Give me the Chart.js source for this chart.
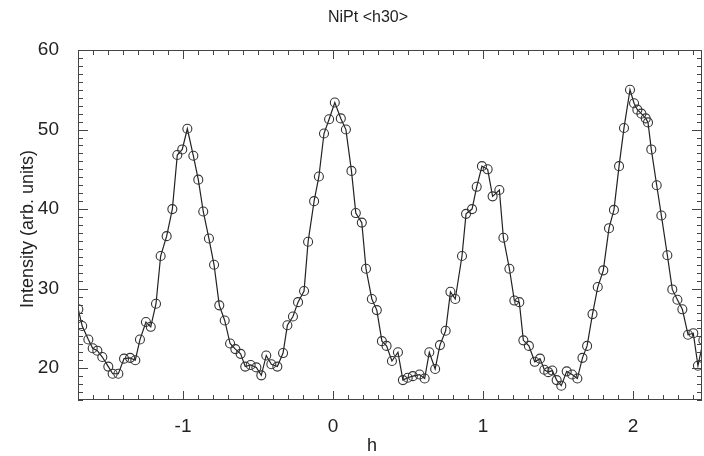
<!DOCTYPE html>
<html>
<head>
<meta charset="utf-8">
<script src="https://cdn.jsdelivr.net/npm/chart.js@4.4.0/dist/chart.umd.min.js"></script>
<style>
    html, body { margin: 0; padding: 0; background: #fff; }
</style>
</head>
<body>
<canvas id="canvasNiPt" width="704" height="456"></canvas>
<script>
// scan along <h30>
var hValues = [
    -1.698, -1.672, -1.631, -1.602, -1.571, -1.538, -1.498, -1.469, -1.431, -1.393,
    -1.353, -1.318, -1.287, -1.247, -1.215, -1.180, -1.149, -1.109, -1.071, -1.038,
    -1.005, -0.971, -0.931, -0.898, -0.865, -0.827, -0.793, -0.758, -0.722, -0.686,
    -0.651, -0.616, -0.585, -0.549, -0.511, -0.478, -0.445, -0.411, -0.371, -0.333,
    -0.304, -0.267, -0.233, -0.193, -0.166, -0.126, -0.094, -0.060, -0.026, 0.012,
    0.052, 0.086, 0.123, 0.152, 0.192, 0.220, 0.259, 0.292, 0.326, 0.357,
    0.393, 0.433, 0.466, 0.498, 0.532, 0.577, 0.611, 0.642, 0.681, 0.713,
    0.751, 0.783, 0.815, 0.860, 0.887, 0.927, 0.958, 0.993, 1.031, 1.064,
    1.109, 1.136, 1.176, 1.209, 1.242, 1.269, 1.306, 1.345, 1.380, 1.409,
    1.435, 1.462, 1.491, 1.522, 1.558, 1.594, 1.629, 1.663, 1.694, 1.730,
    1.765, 1.802, 1.840, 1.873, 1.907, 1.940, 1.980, 2.007, 2.029, 2.056,
    2.085, 2.100, 2.122, 2.158, 2.189, 2.229, 2.262, 2.296, 2.329, 2.367,
    2.402, 2.433, 2.469
];
var intensity = [
    27.4, 25.3, 23.6, 22.5, 22.2, 21.4, 20.2, 19.3, 19.3, 21.2,
    21.3, 21.0, 23.6, 25.8, 25.2, 28.1, 34.1, 36.6, 40.0, 46.8,
    47.5, 50.1, 46.7, 43.7, 39.7, 36.3, 33.0, 27.9, 26.0, 23.1,
    22.4, 21.8, 20.2, 20.4, 20.1, 19.1, 21.6, 20.5, 20.2, 21.9,
    25.4, 26.5, 28.3, 29.7, 35.9, 41.0, 44.1, 49.5, 51.3, 53.4,
    51.4, 50.0, 44.8, 39.5, 38.3, 32.5, 28.7, 27.3, 23.4, 22.8,
    20.9, 22.0, 18.5, 18.8, 19.0, 19.2, 18.7, 22.0, 19.9, 22.9,
    24.7, 29.6, 28.7, 34.1, 39.4, 40.0, 42.8, 45.4, 45.0, 41.6,
    42.4, 36.4, 32.5, 28.5, 28.3, 23.5, 22.8, 20.8, 21.2, 19.8,
    19.5, 19.7, 18.5, 17.8, 19.6, 19.2, 18.7, 21.3, 22.8, 26.8,
    30.2, 32.3, 37.6, 39.9, 45.4, 50.2, 55.0, 53.3, 52.5, 52.0,
    51.4, 50.9, 47.5, 43.0, 39.2, 34.2, 29.9, 28.6, 27.4, 24.2,
    24.4, 20.3, 23.5
];
var xTickLabels = [-1, 0, 1, 2];
var yTickLabels = [20, 30, 40, 50, 60];

var fontName = "'Liberation Sans', Arial, Helvetica, sans-serif";

function makePoints(){
    var points = [];
    for (var i = 0; i < hValues.length; i++){
        points.push({x: hValues[i], y: intensity[i]});
    }
    return points;
}

// frame with inward IDL-style ticks on all four sides
var frameTicks = {
    id: 'frameTicks',
    afterDatasetsDraw: function(chart){
        var ctx = chart.ctx;
        var area = chart.chartArea;
        var xs = chart.scales.x;
        var ys = chart.scales.y;
        var i, px, py, len;
        ctx.save();
        ctx.strokeStyle = '#444';
        ctx.lineWidth = 1;
        ctx.strokeRect(area.left + 0.5, area.top + 0.5, area.right - area.left - 1, area.bottom - area.top - 1);
        ctx.beginPath();
        for (i = -17; i <= 24; i++){
            px = Math.round(xs.getPixelForValue(i / 10)) + 0.5;
            len = (i % 10 === 0) ? 9 : 5;
            ctx.moveTo(px, area.bottom);
            ctx.lineTo(px, area.bottom - len);
            ctx.moveTo(px, area.top);
            ctx.lineTo(px, area.top + len);
        }
        for (i = 16; i <= 60; i++){
            py = Math.round(ys.getPixelForValue(i)) + 0.5;
            len = (i % 10 === 0) ? 10 : 5;
            ctx.moveTo(area.left, py);
            ctx.lineTo(area.left + len, py);
            ctx.moveTo(area.right, py);
            ctx.lineTo(area.right - len, py);
        }
        ctx.stroke();
        ctx.restore();
    }
};

var labelsPlugin = {
    id: 'labelsPlugin',
    afterDraw: function(chart){
        var ctx = chart.ctx;
        ctx.save();
        ctx.fillStyle = '#222';
        ctx.textAlign = 'center';
        ctx.textBaseline = 'middle';
        ctx.font = '16px ' + fontName;
        ctx.fillText('NiPt <h30>', 368, 18);
        ctx.font = '18px ' + fontName;
        ctx.fillText('h', 372, 446);
        ctx.translate(28, 229);
        ctx.rotate(-Math.PI / 2);
        ctx.fillText('Intensity (arb. units)', 0, 0);
        ctx.restore();
    }
};

var config = {
    type: 'scatter',
    data: {
        datasets: [{
            data: makePoints(),
            showLine: true,
            borderColor: '#222',
            borderWidth: 1.2,
            pointRadius: 4.5,
            pointBorderWidth: 1.1,
            pointBorderColor: '#333',
            pointBackgroundColor: 'rgba(0,0,0,0)',
            pointStyle: 'circle'
        }]
    },
    options: {
        responsive: false,
        animation: false,
        devicePixelRatio: 1,
        layout: { autoPadding: false, padding: { left: 0, top: 50, right: 2, bottom: 0 } },
        plugins: {
            legend: { display: false },
            title: { display: false },
            tooltip: { enabled: false }
        },
        scales: {
            x: {
                type: 'linear',
                min: -1.7,
                max: 2.46,
                grid: { display: false },
                border: { display: false },
                afterFit: function(scale){
                    scale.height = 56;
                    scale.paddingLeft = 0;
                    scale.paddingRight = 0;
                },
                ticks: {
                    stepSize: 1,
                    autoSkip: false,
                    maxRotation: 0,
                    padding: 7,
                    color: '#222',
                    font: { family: fontName, size: 19 },
                    callback: function(value){
                        return xTickLabels.indexOf(value) >= 0 ? String(value) : '';
                    }
                }
            },
            y: {
                type: 'linear',
                min: 16,
                max: 60,
                grid: { display: false },
                border: { display: false },
                afterFit: function(scale){ scale.width = 78; },
                ticks: {
                    stepSize: 10,
                    autoSkip: false,
                    padding: 11,
                    color: '#222',
                    font: { family: fontName, size: 19 },
                    callback: function(value){
                        return yTickLabels.indexOf(value) >= 0 ? String(value) : '';
                    }
                }
            }
        }
    },
    plugins: [frameTicks, labelsPlugin]
};

var chart = new Chart(document.getElementById('canvasNiPt').getContext('2d'), config);
</script>
</body>
</html>
